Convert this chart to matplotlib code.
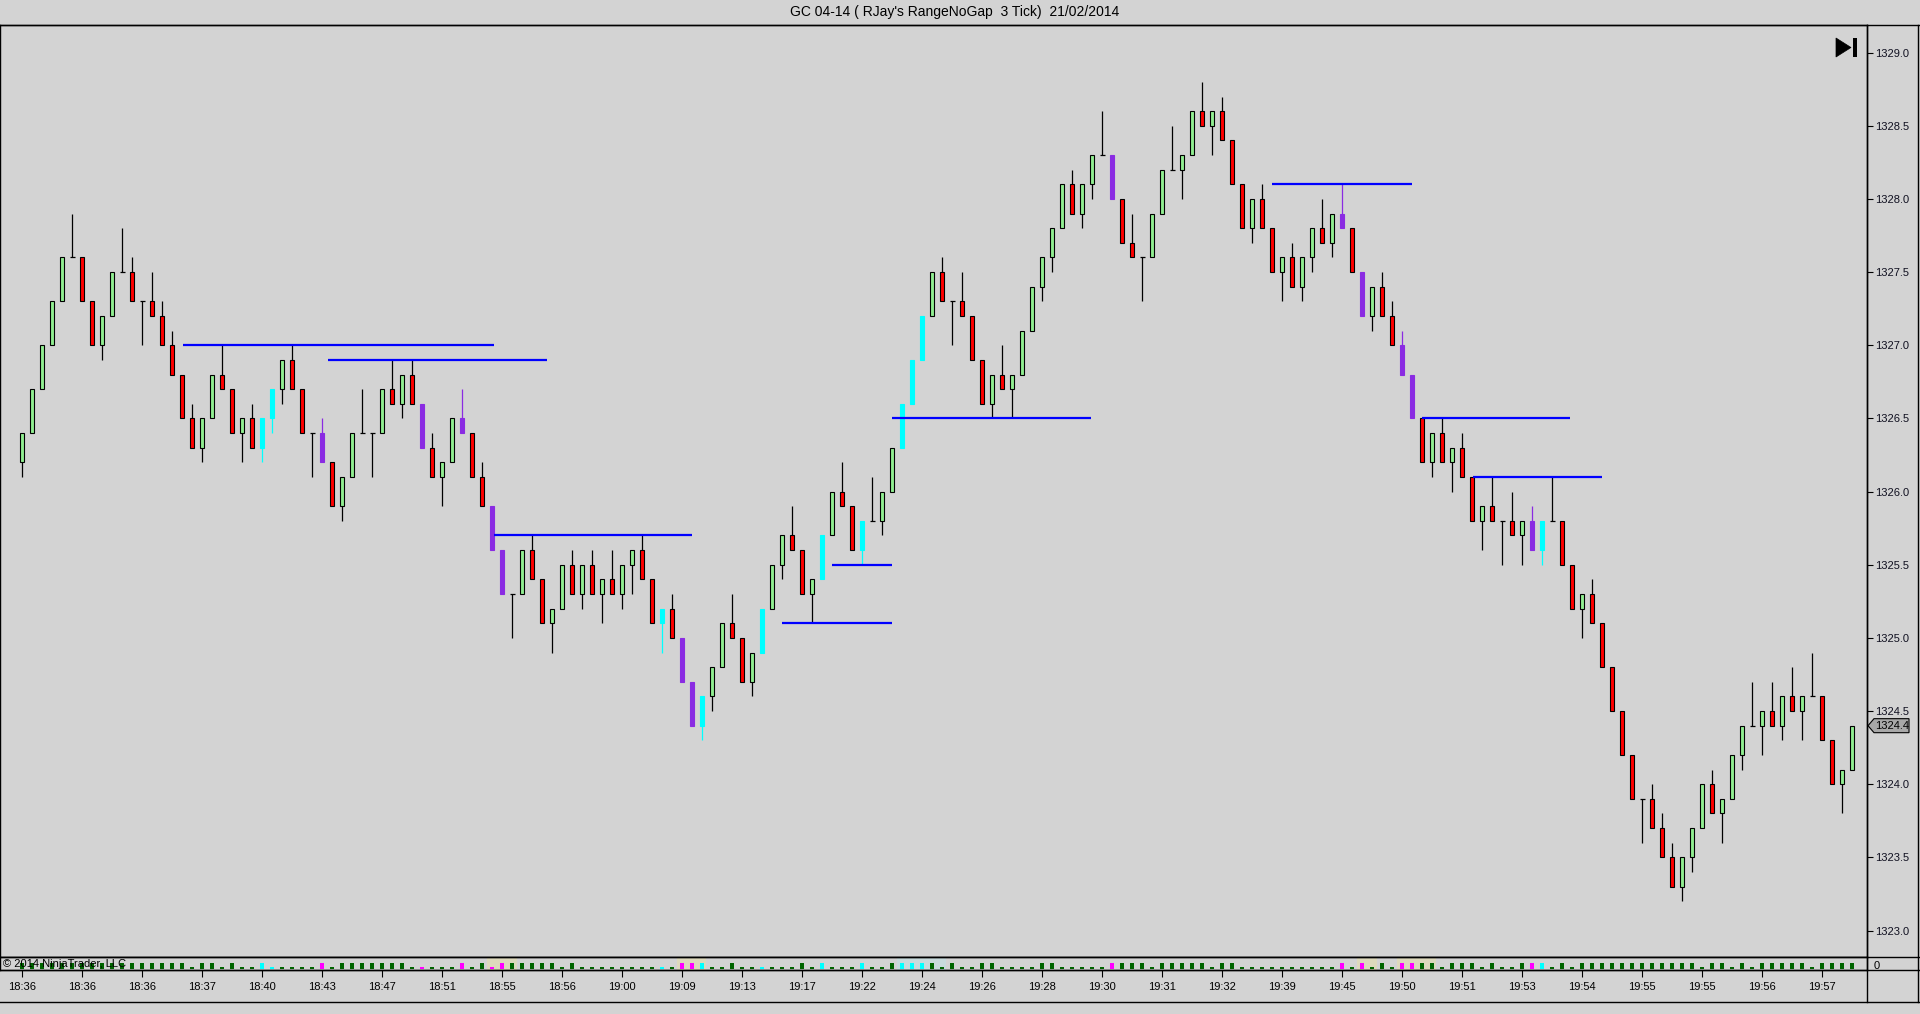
import numpy as np
import matplotlib
matplotlib.use("Agg")
import matplotlib.pyplot as plt
from matplotlib.lines import Line2D
from matplotlib.patches import Polygon
import matplotlib.transforms as mtransforms

plt.rcParams['font.family'] = ['Liberation Sans', 'DejaVu Sans']

# GC 04-14, 3 tick range bars (no gap)
opens = [1326.2, 1326.4, 1326.7, 1327.0, 1327.3, 1327.6, 1327.6, 1327.3, 1327.0, 1327.2,
         1327.5, 1327.5, 1327.3, 1327.3, 1327.2, 1327.0, 1326.8, 1326.5, 1326.3, 1326.5,
         1326.8, 1326.7, 1326.4, 1326.5, 1326.3, 1326.5, 1326.7, 1326.9, 1326.7, 1326.4,
         1326.4, 1326.2, 1325.9, 1326.1, 1326.4, 1326.4, 1326.4, 1326.7, 1326.6, 1326.8,
         1326.6, 1326.3, 1326.1, 1326.2, 1326.5, 1326.4, 1326.1, 1325.9, 1325.6, 1325.3,
         1325.3, 1325.6, 1325.4, 1325.1, 1325.2, 1325.5, 1325.3, 1325.5, 1325.3, 1325.4,
         1325.3, 1325.5, 1325.6, 1325.4, 1325.1, 1325.2, 1325.0, 1324.7, 1324.4, 1324.6,
         1324.8, 1325.1, 1325.0, 1324.7, 1324.9, 1325.2, 1325.5, 1325.7, 1325.6, 1325.3,
         1325.4, 1325.7, 1326.0, 1325.9, 1325.6, 1325.8, 1325.8, 1326.0, 1326.3, 1326.6,
         1326.9, 1327.2, 1327.5, 1327.3, 1327.3, 1327.2, 1326.9, 1326.6, 1326.8, 1326.7,
         1326.8, 1327.1, 1327.4, 1327.6, 1327.8, 1328.1, 1327.9, 1328.1, 1328.3, 1328.3,
         1328.0, 1327.7, 1327.6, 1327.6, 1327.9, 1328.2, 1328.2, 1328.3, 1328.6, 1328.5,
         1328.6, 1328.4, 1328.1, 1327.8, 1328.0, 1327.8, 1327.5, 1327.6, 1327.4, 1327.6,
         1327.8, 1327.7, 1327.9, 1327.8, 1327.5, 1327.2, 1327.4, 1327.2, 1327.0, 1326.8,
         1326.5, 1326.2, 1326.4, 1326.2, 1326.3, 1326.1, 1325.8, 1325.9, 1325.8, 1325.8,
         1325.7, 1325.8, 1325.6, 1325.8, 1325.8, 1325.5, 1325.2, 1325.3, 1325.1, 1324.8,
         1324.5, 1324.2, 1323.9, 1323.9, 1323.7, 1323.5, 1323.3, 1323.5, 1323.7, 1324.0,
         1323.8, 1323.9, 1324.2, 1324.4, 1324.4, 1324.5, 1324.4, 1324.6, 1324.5, 1324.6,
         1324.6, 1324.3, 1324.0, 1324.1]
highs = [1326.4, 1326.7, 1327.0, 1327.3, 1327.6, 1327.9, 1327.6, 1327.3, 1327.2, 1327.5,
         1327.8, 1327.6, 1327.3, 1327.5, 1327.3, 1327.1, 1326.8, 1326.6, 1326.5, 1326.8,
         1327.0, 1326.7, 1326.5, 1326.6, 1326.5, 1326.7, 1326.9, 1327.0, 1326.7, 1326.4,
         1326.5, 1326.2, 1326.1, 1326.4, 1326.7, 1326.4, 1326.7, 1326.9, 1326.8, 1326.9,
         1326.6, 1326.4, 1326.2, 1326.5, 1326.7, 1326.4, 1326.2, 1325.9, 1325.6, 1325.3,
         1325.6, 1325.7, 1325.4, 1325.2, 1325.5, 1325.6, 1325.5, 1325.6, 1325.4, 1325.6,
         1325.5, 1325.6, 1325.7, 1325.4, 1325.2, 1325.3, 1325.0, 1324.7, 1324.6, 1324.8,
         1325.1, 1325.3, 1325.0, 1324.9, 1325.2, 1325.5, 1325.7, 1325.9, 1325.6, 1325.4,
         1325.7, 1326.0, 1326.2, 1325.9, 1325.8, 1326.1, 1326.0, 1326.3, 1326.6, 1326.9,
         1327.2, 1327.5, 1327.6, 1327.3, 1327.5, 1327.2, 1326.9, 1326.8, 1327.0, 1326.8,
         1327.1, 1327.4, 1327.6, 1327.8, 1328.1, 1328.2, 1328.1, 1328.3, 1328.6, 1328.3,
         1328.0, 1327.9, 1327.6, 1327.9, 1328.2, 1328.5, 1328.3, 1328.6, 1328.8, 1328.6,
         1328.7, 1328.4, 1328.1, 1328.0, 1328.1, 1327.8, 1327.6, 1327.7, 1327.6, 1327.8,
         1328.0, 1327.9, 1328.1, 1327.8, 1327.5, 1327.4, 1327.5, 1327.3, 1327.1, 1326.8,
         1326.5, 1326.4, 1326.5, 1326.3, 1326.4, 1326.1, 1325.9, 1326.1, 1325.8, 1326.0,
         1325.8, 1325.9, 1325.8, 1326.1, 1325.8, 1325.5, 1325.3, 1325.4, 1325.1, 1324.8,
         1324.5, 1324.2, 1323.9, 1324.0, 1323.8, 1323.6, 1323.5, 1323.7, 1324.0, 1324.1,
         1323.9, 1324.2, 1324.4, 1324.7, 1324.5, 1324.7, 1324.6, 1324.8, 1324.6, 1324.9,
         1324.6, 1324.3, 1324.1, 1324.4]
lows = [1326.1, 1326.4, 1326.7, 1327.0, 1327.3, 1327.6, 1327.3, 1327.0, 1326.9, 1327.2,
        1327.5, 1327.3, 1327.0, 1327.2, 1327.0, 1326.8, 1326.5, 1326.3, 1326.2, 1326.5,
        1326.7, 1326.4, 1326.2, 1326.3, 1326.2, 1326.4, 1326.6, 1326.7, 1326.4, 1326.1,
        1326.2, 1325.9, 1325.8, 1326.1, 1326.4, 1326.1, 1326.4, 1326.6, 1326.5, 1326.6,
        1326.3, 1326.1, 1325.9, 1326.2, 1326.4, 1326.1, 1325.9, 1325.6, 1325.3, 1325.0,
        1325.3, 1325.4, 1325.1, 1324.9, 1325.2, 1325.3, 1325.2, 1325.3, 1325.1, 1325.3,
        1325.2, 1325.3, 1325.4, 1325.1, 1324.9, 1325.0, 1324.7, 1324.4, 1324.3, 1324.5,
        1324.8, 1325.0, 1324.7, 1324.6, 1324.9, 1325.2, 1325.4, 1325.6, 1325.3, 1325.1,
        1325.4, 1325.7, 1325.9, 1325.6, 1325.5, 1325.8, 1325.7, 1326.0, 1326.3, 1326.6,
        1326.9, 1327.2, 1327.3, 1327.0, 1327.2, 1326.9, 1326.6, 1326.5, 1326.7, 1326.5,
        1326.8, 1327.1, 1327.3, 1327.5, 1327.8, 1327.9, 1327.8, 1328.0, 1328.3, 1328.0,
        1327.7, 1327.6, 1327.3, 1327.6, 1327.9, 1328.2, 1328.0, 1328.3, 1328.5, 1328.3,
        1328.4, 1328.1, 1327.8, 1327.7, 1327.8, 1327.5, 1327.3, 1327.4, 1327.3, 1327.5,
        1327.7, 1327.6, 1327.8, 1327.5, 1327.2, 1327.1, 1327.2, 1327.0, 1326.8, 1326.5,
        1326.2, 1326.1, 1326.2, 1326.0, 1326.1, 1325.8, 1325.6, 1325.8, 1325.5, 1325.7,
        1325.5, 1325.6, 1325.5, 1325.8, 1325.5, 1325.2, 1325.0, 1325.1, 1324.8, 1324.5,
        1324.2, 1323.9, 1323.6, 1323.7, 1323.5, 1323.3, 1323.2, 1323.4, 1323.7, 1323.8,
        1323.6, 1323.9, 1324.1, 1324.4, 1324.2, 1324.4, 1324.3, 1324.5, 1324.3, 1324.6,
        1324.3, 1324.0, 1323.8, 1324.1]
closes = [1326.4, 1326.7, 1327.0, 1327.3, 1327.6, 1327.6, 1327.3, 1327.0, 1327.2, 1327.5,
          1327.5, 1327.3, 1327.3, 1327.2, 1327.0, 1326.8, 1326.5, 1326.3, 1326.5, 1326.8,
          1326.7, 1326.4, 1326.5, 1326.3, 1326.5, 1326.7, 1326.9, 1326.7, 1326.4, 1326.4,
          1326.2, 1325.9, 1326.1, 1326.4, 1326.4, 1326.4, 1326.7, 1326.6, 1326.8, 1326.6,
          1326.3, 1326.1, 1326.2, 1326.5, 1326.4, 1326.1, 1325.9, 1325.6, 1325.3, 1325.3,
          1325.6, 1325.4, 1325.1, 1325.2, 1325.5, 1325.3, 1325.5, 1325.3, 1325.4, 1325.3,
          1325.5, 1325.6, 1325.4, 1325.1, 1325.2, 1325.0, 1324.7, 1324.4, 1324.6, 1324.8,
          1325.1, 1325.0, 1324.7, 1324.9, 1325.2, 1325.5, 1325.7, 1325.6, 1325.3, 1325.4,
          1325.7, 1326.0, 1325.9, 1325.6, 1325.8, 1325.8, 1326.0, 1326.3, 1326.6, 1326.9,
          1327.2, 1327.5, 1327.3, 1327.3, 1327.2, 1326.9, 1326.6, 1326.8, 1326.7, 1326.8,
          1327.1, 1327.4, 1327.6, 1327.8, 1328.1, 1327.9, 1328.1, 1328.3, 1328.3, 1328.0,
          1327.7, 1327.6, 1327.6, 1327.9, 1328.2, 1328.2, 1328.3, 1328.6, 1328.5, 1328.6,
          1328.4, 1328.1, 1327.8, 1328.0, 1327.8, 1327.5, 1327.6, 1327.4, 1327.6, 1327.8,
          1327.7, 1327.9, 1327.8, 1327.5, 1327.2, 1327.4, 1327.2, 1327.0, 1326.8, 1326.5,
          1326.2, 1326.4, 1326.2, 1326.3, 1326.1, 1325.8, 1325.9, 1325.8, 1325.8, 1325.7,
          1325.8, 1325.6, 1325.8, 1325.8, 1325.5, 1325.2, 1325.3, 1325.1, 1324.8, 1324.5,
          1324.2, 1323.9, 1323.9, 1323.7, 1323.5, 1323.3, 1323.5, 1323.7, 1324.0, 1323.8,
          1323.9, 1324.2, 1324.4, 1324.4, 1324.5, 1324.4, 1324.6, 1324.5, 1324.6, 1324.6,
          1324.3, 1324.0, 1324.1, 1324.4]

# bars painted by the signal indicator
cyan_bars = [24, 25, 64, 68, 74, 80, 84, 88, 89, 90, 152]
purple_bars = [30, 40, 44, 47, 48, 66, 67, 109, 132, 134, 138, 139, 151]

# horizontal swing lines: price, first bar, last bar
line_prices = [1327.0, 1326.9, 1325.7, 1325.1, 1325.5, 1326.5, 1328.1, 1326.5, 1326.1]
line_start = [16.1, 30.6, 47.2, 76.0, 81.0, 87.0, 125.0, 140.0, 145.1]
line_end = [47.2, 52.5, 67.0, 87.0, 87.0, 106.9, 139.0, 154.8, 158.0]

# bottom marker strip: t = tall, s = short
marker_size = ("ttttttttttt" "ttttttstts" "tsstssssst" "stttttttss" "ssstststtt"
               "tttstsssss" "ssssstttss" "tsssssstst" "ssstsstttt" "tstssttsss"
               "sttssssstt" "ttstttttst" "tsssssssss" "ststststtt" "tstttstsst"
               "ttststtttt" "tttttttstt" "ststttttst" "ttt")
strip_spans = [(46.5, 49.5), (65.5, 68.4), (133.5, 135.5), (137.5, 141.4)]
strip_span_blue = [(87.5, 92.4)]

time_labels = ["18:36", "18:36", "18:36", "18:37", "18:40", "18:43", "18:47", "18:51",
               "18:55", "18:56", "19:00", "19:09", "19:13", "19:17", "19:22", "19:24",
               "19:26", "19:28", "19:30", "19:31", "19:32", "19:39", "19:45", "19:50",
               "19:51", "19:53", "19:54", "19:55", "19:55", "19:56", "19:57"]

title = "GC 04-14 ( RJay's RangeNoGap  3 Tick)  21/02/2014"

BG = '#D3D3D3'
W, H = 1920, 1014
fig = plt.figure(figsize=(W / 100, H / 100), dpi=100, facecolor=BG)


def rect(left, top, right, bottom):
    return [left / W, 1 - bottom / H, (right - left) / W, (bottom - top) / H]


ax = fig.add_axes(rect(0, 25, 1867, 957), facecolor=BG)
axs = fig.add_axes(rect(0, 957, 1867, 970), facecolor=BG, sharex=ax)

o, hi, lo, c = (np.array(v) for v in (opens, highs, lows, closes))
n = len(c)
x = np.arange(n)

face = np.where(c > o, '#90EE90', '#FF0000').astype(object)
edge = np.array(['black'] * n, dtype=object)
for i in cyan_bars:
    face[i] = edge[i] = '#00FFFF'
for i in purple_bars:
    face[i] = edge[i] = '#8A2BE2'

ax.vlines(x, lo, hi, colors=list(edge), linewidth=0.9, zorder=2)
body = ~np.isclose(o, c)
ax.bar(x[body], np.abs(c - o)[body], bottom=np.minimum(o, c)[body], width=0.44,
       color=list(face[body]), edgecolor=list(edge[body]), linewidth=0.8, zorder=3)
doji = ~body
ax.hlines(o[doji], x[doji] - 0.25, x[doji] + 0.25, colors='black', linewidth=0.9, zorder=3)

for p, a, b in zip(line_prices, line_start, line_end):
    ax.plot([a, b], [p, p], color='#0000FF', linewidth=1.6, zorder=4, solid_capstyle='butt')

ax.set_xlim(-2.2, 184.5)
ax.set_ylim(1322.819, 1329.189)
ax.yaxis.tick_right()
ax.set_yticks(np.arange(1323.0, 1329.01, 0.5))
ax.set_yticklabels([f"{v:.1f}" for v in np.arange(1323.0, 1329.01, 0.5)])
ax.tick_params(axis='y', direction='out', length=4, width=0.8, pad=2,
               labelsize=8, labelcolor='#101020')
ax.tick_params(axis='x', bottom=False, labelbottom=False)
for s in ax.spines.values():
    s.set_linewidth(1.0)
    s.set_color('black')

# marker strip
for a, b in strip_spans:
    axs.axvspan(a, b, color='#DDD9BC', lw=0, zorder=0)
for a, b in strip_span_blue:
    axs.axvspan(a, b, color='#C8DADC', lw=0, zorder=0)
mcol = np.array(['#006400'] * n, dtype=object)
for i in cyan_bars:
    mcol[i] = '#00FFFF'
for i in purple_bars:
    mcol[i] = '#FF00FF'
mh = np.array([6.0 if m == 't' else 2.0 for m in marker_size])
axs.bar(x, mh, bottom=1.5, width=0.44, color=list(mcol), linewidth=0, zorder=2)
axs.set_ylim(0, 13)
axs.set_yticks([])
axs.set_xticks(x[::6])
axs.set_xticklabels(time_labels)
axs.tick_params(axis='x', direction='out', length=5, width=0.8, pad=4, labelsize=8)
for s in axs.spines.values():
    s.set_linewidth(1.0)
    s.set_color('black')


def fig_line(x0, y0, x1, y1):
    fig.add_artist(Line2D([x0 / W, x1 / W], [1 - y0 / H, 1 - y1 / H],
                          transform=fig.transFigure, color='black', linewidth=1.0))


fig_line(0, 25, W, 25)
fig_line(0, 957, W, 957)
fig_line(0, 970, W, 970)
fig_line(0, 1002, W, 1002)
fig_line(1867, 25, 1867, 1002)
fig_line(W - 2, 25, W - 2, 1002)

fig.text(955 / W, 1 - 12 / H, title, ha='center', va='center', fontsize=10)
fig.text(3 / W, 1 - 964 / H, "\u00a9 2014 NinjaTrader, LLC", ha='left', va='center', fontsize=8)
fig.text(1874 / W, 1 - 966 / H, "0", ha='left', va='center', fontsize=8)

# current price tag on the axis
ident = mtransforms.IdentityTransform()
ax_x, py = ax.transData.transform((184.5, c[-1]))
tag = [(ax_x + 1, py), (ax_x + 7, py + 7), (ax_x + 42, py + 7), (ax_x + 42, py - 7), (ax_x + 7, py - 7)]
fig.add_artist(Polygon(tag, closed=True, transform=ident, facecolor='#A8A8A8',
                       edgecolor='black', linewidth=0.8))
fig.text((ax_x + 25) / W, py / H, f"{c[-1]:.1f}", ha='center', va='center', fontsize=8)

# "go to end" button, top right of the price panel
fig.add_artist(Polygon([(1836, H - 38), (1836, H - 57), (1851, H - 47.5)], closed=True,
                       transform=ident, facecolor='black', edgecolor='black', linewidth=0.5))
fig.add_artist(Polygon([(1852.5, H - 38), (1856.5, H - 38), (1856.5, H - 57), (1852.5, H - 57)],
                       closed=True, transform=ident, facecolor='black', edgecolor='none'))

fig.savefig("out.png", dpi=100, facecolor=BG)
